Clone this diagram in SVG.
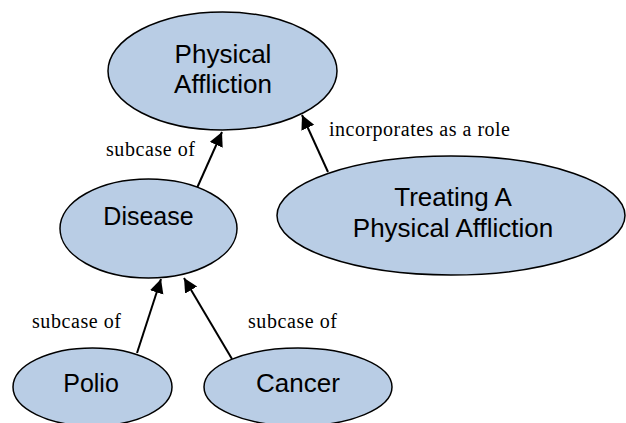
<svg xmlns="http://www.w3.org/2000/svg" width="626" height="423" viewBox="0 0 626 423">
<style>
.node ellipse{fill:#b9cde5;stroke:#000;stroke-width:1.5}
.node text{font-family:"Liberation Sans",Arial,sans-serif;font-size:26px;fill:#000;text-anchor:middle}
.edge line{stroke:#000;stroke-width:2;marker-end:url(#arr)}
.lbl{font-family:"Liberation Serif","Times New Roman",serif;font-size:20px;fill:#000}
</style>
<defs>
<marker id="arr" markerUnits="userSpaceOnUse" markerWidth="16" markerHeight="16" refX="14" refY="7" orient="auto">
<path d="M0,0 L14,7 L0,14 z" fill="#000"/>
</marker>
</defs>
<rect width="626" height="423" fill="#fff"/>
<g id="connectors" class="edge">
<line x1="197" y1="188" x2="222" y2="132"/>
<line x1="328" y1="172" x2="302" y2="115"/>
<line x1="137" y1="353" x2="161" y2="279"/>
<line x1="232" y1="359" x2="184" y2="278"/>
</g>
<g id="labels">
<text class="lbl" x="106" y="156" textLength="89">subcase of</text>
<text class="lbl" x="329" y="136" textLength="181">incorporates as a role</text>
<text class="lbl" x="32" y="328" textLength="89">subcase of</text>
<text class="lbl" x="248" y="328" textLength="89">subcase of</text>
</g>
<g id="physical-affliction" class="node">
<ellipse cx="222.5" cy="71" rx="114.5" ry="59"/>
<text x="223" y="63">Physical</text>
<text x="223" y="93">Affliction</text>
</g>
<g id="disease" class="node">
<ellipse cx="148.5" cy="228.5" rx="88.5" ry="49.5"/>
<text x="148.5" y="225" style="font-size:25px">Disease</text>
</g>
<g id="treating" class="node">
<ellipse cx="451" cy="215.5" rx="174" ry="59.5"/>
<text x="453" y="206">Treating A</text>
<text x="453" y="237">Physical Affliction</text>
</g>
<g id="polio" class="node">
<ellipse cx="92.5" cy="387" rx="79.5" ry="39"/>
<text x="91" y="392" style="font-size:25px">Polio</text>
</g>
<g id="cancer" class="node">
<ellipse cx="298" cy="387" rx="94" ry="39"/>
<text x="298" y="392">Cancer</text>
</g>
</svg>
